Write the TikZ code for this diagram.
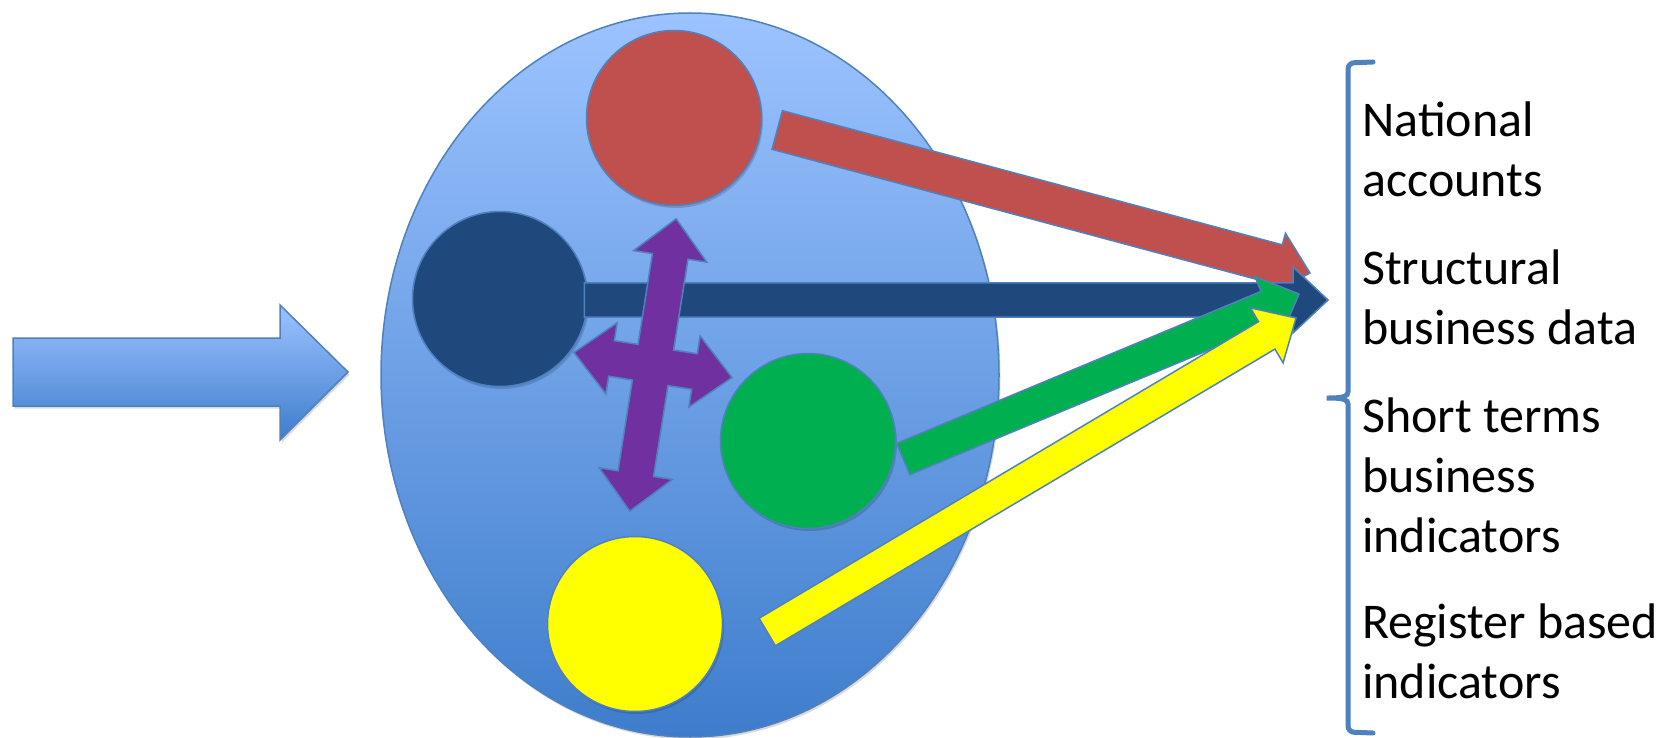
\documentclass[tikz,border=0pt]{standalone}
\usepackage{fontspec}
\setmainfont{Carlito}
\usetikzlibrary{calc,shadows,positioning}
\definecolor{edgeblue}{HTML}{4F81BD}
\definecolor{skytop}{RGB}{156,195,255}
\definecolor{skybottom}{RGB}{62,125,204}
\definecolor{redc}{HTML}{C0504D}
\definecolor{navyc}{HTML}{1F497D}
\definecolor{greenc}{HTML}{00B050}
\definecolor{yellowc}{HTML}{FFFF00}
\definecolor{purplec}{HTML}{7030A0}
\tikzset{
    shape edge/.style={draw=edgeblue, line width=1.5pt, line join=miter},
    soft shadow/.style={drop shadow={shadow xshift=1.5pt, shadow yshift=-2.5pt, opacity=.15, fill=black}},
    ball/.style={circle, shape edge, minimum size=175pt, inner sep=0pt, soft shadow},
    panel/.style={shape edge, top color=skytop, bottom color=skybottom, soft shadow},
    item/.style={anchor=base west, align=left, inner sep=0pt, font=\fontsize{50}{60}\selectfont},
    bracket/.style={draw=edgeblue, line width=5pt, line cap=round},
}
% block arrow: colour, tail, tip, shaft half width, head half width, head length
\newcommand{\blockarrow}[6]{%
    \coordinate (hb) at ($(#3)!#6!(#2)$);
    \filldraw[shape edge, fill=#1] ($(#2)!#4!90:(#3)$) -- ($(hb)!#4!-90:(#2)$) -- ($(hb)!#5!-90:(#2)$) -- (#3)
        -- ($(hb)!#5!90:(#2)$) -- ($(hb)!#4!90:(#2)$) -- ($(#2)!#4!-90:(#3)$) -- cycle;}
\begin{document}
\begin{tikzpicture}[x=1pt, y=-1pt]
\useasboundingbox (0,0) rectangle (1674,738);
% Input arrow
\filldraw[panel] (13,338) -- (280,338) -- (280,305) -- (348,372) -- (280,440) -- (280,406) -- (13,406) -- cycle;
% Big oval
\filldraw[panel] (690,375) ellipse (309 and 362);
% Circles
\node[ball, fill=redc] (red) at (674,118) {};
\node[ball, fill=navyc] (navy) at (500,299) {};
\node[ball, fill=greenc] (green) at (808,441) {};
\node[ball, fill=yellowc] (yellow) at (635,624) {};
% Arrow ends
\coordinate (redtail) at ($(red.east)+(15,12)$);
\coordinate (redtip) at (1310,273);
\coordinate (navytail) at ($(navy.east)+(-4,1)$);
\coordinate (navytip) at (1328,300);
\coordinate (greentail) at ($(green.east)+(7,18)$);
\coordinate (greentip) at (1299,294);
\coordinate (yellowtail) at ($(yellow.east)+(44,8)$);
\coordinate (yellowtip) at (1296,318);
% Block arrows
\blockarrow{redc}{redtail}{redtip}{20pt}{32pt}{34pt}
\blockarrow{navyc}{navytail}{navytip}{17pt}{33pt}{35pt}
\blockarrow{greenc}{greentail}{greentip}{17pt}{33pt}{34pt}
\blockarrow{yellowc}{yellowtail}{yellowtip}{16pt}{32pt}{34pt}
% Purple cross
\begin{scope}[shift={(653,365)}, rotate=-9]
\filldraw[shape edge, fill=purplec] (0,-148) -- (37,-110) -- (18,-110) -- (18,-18) -- (42,-18) -- (42,-36) -- (80,0)
    -- (42,36) -- (42,18) -- (18,18) -- (18,110) -- (37,110) -- (0,148) -- (-37,110) -- (-18,110) -- (-18,18)
    -- (-42,18) -- (-42,36) -- (-80,0) -- (-42,-36) -- (-42,-18) -- (-18,-18) -- (-18,-110) -- (-37,-110) -- cycle;
\end{scope}
% Brace
\draw[bracket, rounded corners=6pt] (1373,62) -- (1348,63) -- (1348,386)
    .. controls (1348,396) and (1344,398) .. (1323,398)
    .. controls (1344,398) and (1348,400) .. (1348,410) -- (1348,732) -- (1373,733);
% Outputs (base = last line)
\node[item] (nat) at (1362,197) {National\\accounts};
\node[item] (struct) at (1362,344) {Structural\\business data};
\node[item] (shortterm) at (1362,552) {Short terms\\business\\indicators};
\node[item] (reg) at (1362,698) {Register based\\indicators};
\end{tikzpicture}
\end{document}
